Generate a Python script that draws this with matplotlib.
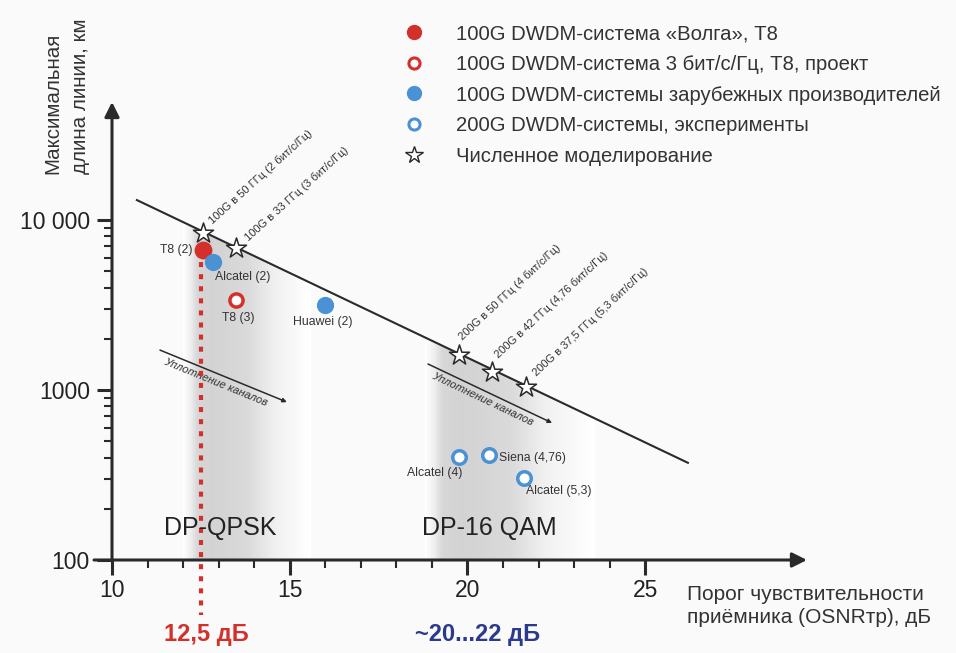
import numpy as np
import matplotlib
matplotlib.use("Agg")
import matplotlib.pyplot as plt
from matplotlib.patches import Polygon
from matplotlib.lines import Line2D
from matplotlib.ticker import FixedLocator, NullFormatter

plt.rcParams['font.family'] = ['Liberation Sans', 'DejaVu Sans']

# ---------------- data ----------------
star_x = [12.55, 13.5, 19.75, 20.7, 21.65]
star_y = [8400, 6800, 1600, 1280, 1040]
star_labels = ["100G в 50 ГГц (2 бит/с/Гц)", "100G в 33 ГГц (3 бит/с/Гц)",
               "200G в 50 ГГц (4 бит/с/Гц)", "200G в 42 ГГц (4,76 бит/с/Гц)",
               "200G в 37,5 ГГц (5,3 бит/с/Гц)"]

volga_x = [12.55]
volga_y = [6650]
volga_labels = ["T8 (2)"]

project_x = [13.5]
project_y = [3400]
project_labels = ["T8 (3)"]

foreign_x = [12.85, 16.0]
foreign_y = [5650, 3150]
foreign_labels = ["Alcatel (2)", "Huawei (2)"]

exp200_x = [19.75, 20.6, 21.6]
exp200_y = [405, 415, 303]
exp200_labels = ["Alcatel (4)", "Siena (4,76)", "Alcatel (5,3)"]

trend_x = [10.7, 26.2]
trend_y = [13100, 373]

dens1_x = [11.35, 14.92]
dens1_y = [1717, 849]
dens2_x = [18.89, 22.38]
dens2_y = [1422, 640]

threshold_x = 12.5

legend_labels = ["100G DWDM-система «Волга», Т8",
                 "100G DWDM-система 3 бит/с/Гц, Т8, проект",
                 "100G DWDM-системы зарубежных производителей",
                 "200G DWDM-системы, эксперименты",
                 "Численное моделирование"]

x_major = [10, 15, 20, 25]
y_major = [100, 1000, 10000]
y_major_labels = ["100", "1000", "10 000"]

# ---------------- figure ----------------
W, H = 956, 653
fig = plt.figure(figsize=(W / 100, H / 100), dpi=100, facecolor='#fafafa')
ax_l, ax_b, ax_r, ax_t = 112, 560, 807, 102
ax = fig.add_axes([ax_l / W, 1 - ax_b / H, (ax_r - ax_l) / W, (ax_b - ax_t) / H])
ax.set_facecolor('none')
ax.set_yscale('log')
ax.set_xlim(10, 29.55)
ax.set_ylim(100, 10 ** (2 + (ax_b - ax_t) / 170))
for s in ax.spines.values():
    s.set_visible(False)

RED = '#d3302c'
BLUE = '#4b92d4'
DARK = '#2a2a2a'
TXT = '#333333'

def trend(x):
    lx = np.log10(trend_y)
    return 10 ** (lx[0] + (lx[1] - lx[0]) * (np.asarray(x) - trend_x[0]) / (trend_x[1] - trend_x[0]))

# gradient shading regions under the trend line
def shade(x_pts, a_pts, x0, x1):
    xe = np.linspace(x0, x1, 241)
    xc = 0.5 * (xe[:-1] + xe[1:])
    a = np.interp(xc, x_pts, a_pts)
    C = a[np.newaxis, :]
    mesh = ax.pcolormesh(xe, [100, trend(x0) * 1.01], C, cmap='Greys', vmin=0, vmax=1,
                         shading='flat', zorder=0.5, linewidth=0, antialiased=False)
    xs = np.linspace(x0, x1, 50)
    verts = [(x0, 100)] + list(zip(xs, trend(xs))) + [(x1, 100)]
    poly = Polygon(verts, closed=True, transform=ax.transData, facecolor='none', edgecolor='none')
    ax.add_patch(poly)
    mesh.set_clip_path(poly)

shade([12.0, 12.4, 12.8, 13.8, 14.7, 15.6], [0.0, 0.26, 0.28, 0.25, 0.11, 0.0], 12.0, 15.6)
shade([18.8, 19.3, 19.8, 21.2, 22.3, 23.6], [0.0, 0.26, 0.28, 0.25, 0.11, 0.0], 18.8, 23.6)

# axes arrows
ax.annotate('', xy=(0, 1), xytext=(0, 0), xycoords='axes fraction',
            arrowprops=dict(arrowstyle='-|>', lw=2.2, color=DARK, mutation_scale=22,
                            shrinkA=0, shrinkB=0), zorder=3)
ax.annotate('', xy=(1, 0), xytext=(-18 / (ax_r - ax_l), 0), xycoords='axes fraction',
            arrowprops=dict(arrowstyle='-|>', lw=2.2, color=DARK, mutation_scale=22,
                            shrinkA=0, shrinkB=0), zorder=3)

# ticks
ax.xaxis.set_major_locator(FixedLocator(x_major))
ax.xaxis.set_minor_locator(FixedLocator(list(range(11, 25))))
ax.yaxis.set_major_locator(FixedLocator(y_major))
ax.set_yticklabels(y_major_labels)
ax.yaxis.set_minor_locator(FixedLocator([k * m for m in (100, 1000) for k in range(2, 10)]))
ax.yaxis.set_minor_formatter(NullFormatter())
ax.tick_params(axis='both', which='major', length=11, width=2.2, color=DARK,
               labelsize=16.5, labelcolor='#222222')
ax.tick_params(axis='both', which='minor', length=6, width=1.5, color=DARK)
ax.tick_params(axis='x', which='major', pad=3)
ax.tick_params(axis='y', which='major', pad=5)

# trend line
ax.plot(trend_x, trend_y, color=DARK, lw=1.5, zorder=2)

# channel densification arrows
for dx, dy in ((dens1_x, dens1_y), (dens2_x, dens2_y)):
    ax.annotate('', xy=(dx[1], dy[1]), xytext=(dx[0], dy[0]),
                arrowprops=dict(arrowstyle='-|>', lw=1.1, color=DARK, mutation_scale=6,
                                shrinkA=0, shrinkB=0), zorder=2)
    xm = dx[0] + 0.04 * (dx[1] - dx[0])
    ym = 10 ** (np.log10(dy[0]) + 0.04 * (np.log10(dy[1]) - np.log10(dy[0])))
    p0 = ax.transData.transform((dx[0], dy[0]))
    p1 = ax.transData.transform((dx[1], dy[1]))
    ang = np.degrees(np.arctan2(p1[1] - p0[1], p1[0] - p0[0]))
    ax.annotate("Уплотнение каналов", (xm, ym), xytext=(1, -3), textcoords='offset points',
                rotation=ang, rotation_mode='anchor', ha='left', va='top',
                fontsize=8, color=TXT, style='italic')

# threshold dotted line
ax.plot([threshold_x, threshold_x], [volga_y[0], 10 ** (2 - 55 / 170)], color=RED,
        lw=3, linestyle=(0, (1.2, 1.7)), clip_on=False, zorder=3)

# markers
ax.scatter(star_x, star_y, marker='*', s=230, facecolor='white', edgecolor=DARK,
           linewidth=1.1, zorder=5)
ax.scatter(volga_x, volga_y, marker='o', s=140, color=RED, zorder=6)
ax.scatter(project_x, project_y, marker='o', s=90, facecolor='white', edgecolor=RED,
           linewidth=2.5, zorder=6)
ax.scatter(foreign_x, foreign_y, marker='o', s=130, color=BLUE, zorder=6)
ax.scatter(exp200_x, exp200_y, marker='o', s=95, facecolor='white', edgecolor=BLUE,
           linewidth=2.5, zorder=6)

# point labels
lab_kw = dict(textcoords='offset points', fontsize=8.8, color=TXT)
ax.annotate(volga_labels[0], (volga_x[0], volga_y[0]), xytext=(-7, 0), ha='right', va='center', **lab_kw)
ax.annotate(project_labels[0], (project_x[0], project_y[0]), xytext=(1, -13), ha='center', va='center', **lab_kw)
ax.annotate(foreign_labels[0], (foreign_x[0], foreign_y[0]), xytext=(21, -11), ha='center', va='center', **lab_kw)
ax.annotate(foreign_labels[1], (foreign_x[1], foreign_y[1]), xytext=(-2, -12), ha='center', va='center', **lab_kw)
ax.annotate(exp200_labels[0], (exp200_x[0], exp200_y[0]), xytext=(-17, -12), ha='center', va='center', **lab_kw)
ax.annotate(exp200_labels[1], (exp200_x[1], exp200_y[1]), xytext=(7, -2), ha='left', va='center', **lab_kw)
ax.annotate(exp200_labels[2], (exp200_x[2], exp200_y[2]), xytext=(1, -9), ha='left', va='center', **lab_kw)

# star labels (rotated)
offs = [(6, 8), (7, 7), (1, 12), (3, 11), (6, 9)]
rots = [42, 42, 43, 43, 43]
for x, y, t, o, r in zip(star_x, star_y, star_labels, offs, rots):
    ax.annotate(t, (x, y), xytext=o, textcoords='offset points', rotation=r,
                rotation_mode='anchor', ha='left', va='center', fontsize=8, color=TXT)

# modulation labels
ax.text(13.05, 10 ** (2 + 32 / 170), "DP-QPSK", fontsize=18, ha='center', va='center', color='#222222')
ax.text(20.6, 10 ** (2 + 32 / 170), "DP-16 QAM", fontsize=18, ha='center', va='center', color='#222222')

# threshold labels below axis
fig.text(206 / W, 1 - 635 / H, "12,5 дБ", fontsize=17, fontweight='bold', color=RED,
         ha='center', va='center')
fig.text(478 / W, 1 - 634 / H, "~20...22 дБ", fontsize=17, fontweight='bold', color='#2b3a8c',
         ha='center', va='center')

# axis titles
fig.text(687 / W, 1 - 606 / H, "Порог чувствительности\nприёмника (OSNRтр), дБ", fontsize=15,
         ha='left', va='center', color=TXT, linespacing=1.3)
fig.text(67 / W, 1 - 174 / H, "Максимальная\nдлина линии, км", fontsize=14.8, rotation=90,
         ha='center', va='bottom', color=TXT, linespacing=1.55, multialignment='left')

# legend
handles = [
    Line2D([], [], marker='o', ls='none', color=RED, markersize=10),
    Line2D([], [], marker='o', ls='none', markerfacecolor='white', markeredgecolor=RED,
           markeredgewidth=2.2, markersize=8),
    Line2D([], [], marker='o', ls='none', color=BLUE, markersize=10),
    Line2D([], [], marker='o', ls='none', markerfacecolor='white', markeredgecolor=BLUE,
           markeredgewidth=2.2, markersize=8),
    Line2D([], [], marker='*', ls='none', markerfacecolor='white', markeredgecolor=DARK,
           markeredgewidth=1.0, markersize=13),
]
fig.legend(handles, legend_labels, loc='upper left', bbox_to_anchor=(404 / W, 1 - 24 / H),
           frameon=False, fontsize=14.6, handlelength=1.0, handletextpad=1.55,
           labelspacing=0.58, borderpad=0, borderaxespad=0, labelcolor=TXT)

fig.savefig('out.png', dpi=100, facecolor=fig.get_facecolor())
